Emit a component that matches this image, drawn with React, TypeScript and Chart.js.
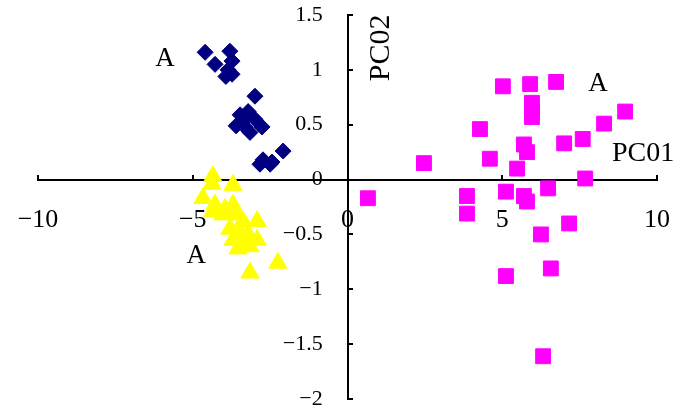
import { useEffect, useRef } from "react";
import { Chart, registerables } from "chart.js";

Chart.register(...registerables);

const navyX = [-4.6, -3.8, -3.73, -4.28, -3.86, -3.93, -3.73, -2.99, -3.47, -3.21, -2.99, -3.6, -3.31, -2.76, -3.15, -3.38, -2.08, -2.73, -2.44, -2.83, -2.5];
const navyY = [1.16, 1.17, 1.08, 1.05, 1.0, 0.94, 0.96, 0.76, 0.59, 0.62, 0.55, 0.49, 0.48, 0.48, 0.43, 0.53, 0.26, 0.18, 0.16, 0.14, 0.14];

const yellowX = [-4.35, -4.38, -3.7, -4.67, -4.28, -3.96, -3.7, -4.35, -4.02, -3.57, -3.38, -2.92, -3.8, -3.47, -3.21, -2.92, -3.7, -3.38, -3.54, -3.15, -2.25, -3.15];
const yellowY = [0.03, -0.04, -0.05, -0.17, -0.23, -0.27, -0.23, -0.29, -0.32, -0.32, -0.38, -0.38, -0.45, -0.48, -0.5, -0.55, -0.55, -0.57, -0.63, -0.61, -0.76, -0.85];

const magentaX = [0.66, 2.47, 4.28, 4.6, 5.02, 3.86, 3.86, 5.12, 5.12, 5.7, 5.8, 6.48, 6.25, 6.57, 6.32, 7.16, 7.68, 5.9, 6.74, 5.96, 5.96, 5.96, 5.7, 5.8, 5.48, 7.0, 7.6, 8.29, 8.97];
const magentaY = [-0.17, 0.15, 0.46, 0.19, 0.85, -0.15, -0.31, -0.11, -0.88, -0.15, -0.2, -0.08, -0.5, -0.81, -1.61, -0.4, 0.01, 0.87, 0.89, 0.7, 0.64, 0.57, 0.32, 0.25, 0.1, 0.33, 0.37, 0.51, 0.62];

const xMin = -10;
const xMax = 10;
const xStep = 5;
const yMin = -2;
const yMax = 1.5;
const yStep = 0.5;

const xTitle = "PC01";
const yTitle = "PC02";
const groupLabel = "A";
const groupLabelX = [-5.9, 8.09, -4.89];
const groupLabelY = [1.1, 0.875, -0.7];
const xTitlePos = [9.55, 0.24];
const yTitlePos = [1.08, 1.2];

const FONT = "'Liberation Serif', 'DejaVu Serif', serif";

const fmt = (v: number) => {
  const s = String(Math.round(v * 100) / 100);
  return s.replace("-", "\u2212");
};

const toPoints = (xs: number[], ys: number[]) => xs.map((x, i) => ({ x, y: ys[i] }));

const noLayoutSpace = (scale: any) => {
  if (scale.isHorizontal()) scale.height = 0;
  else scale.width = 0;
  scale.paddingLeft = 0;
  scale.paddingRight = 0;
  scale.paddingTop = 0;
  scale.paddingBottom = 0;
};

const textPlugin = {
  id: "annotText",
  afterDatasetsDraw(chart: any) {
    const { ctx, scales } = chart;
    const sx = scales.x;
    const sy = scales.y;
    ctx.save();
    ctx.fillStyle = "#000";
    ctx.textAlign = "center";
    ctx.textBaseline = "middle";
    ctx.font = `27px ${FONT}`;
    groupLabelX.forEach((gx, i) => {
      ctx.fillText(groupLabel, sx.getPixelForValue(gx), sy.getPixelForValue(groupLabelY[i]));
    });
    ctx.font = `28px ${FONT}`;
    ctx.fillText(xTitle, sx.getPixelForValue(xTitlePos[0]), sy.getPixelForValue(xTitlePos[1]));
    ctx.translate(sx.getPixelForValue(yTitlePos[0]), sy.getPixelForValue(yTitlePos[1]));
    ctx.rotate(-Math.PI / 2);
    ctx.font = `30px ${FONT}`;
    ctx.fillText(yTitle, 0, 0);
    ctx.restore();
  },
};

export default function App() {
  const ref = useRef<HTMLCanvasElement>(null);
  useEffect(() => {
    if (!ref.current) return;
    const chart = new Chart(ref.current, {
      type: "scatter",
      data: {
        datasets: [
          {
            label: "navy",
            data: toPoints(navyX, navyY),
            pointStyle: "rectRot",
            pointRadius: 8,
            backgroundColor: "#000080",
            borderColor: "#000080",
            borderWidth: 1,
            xAxisID: "x",
            yAxisID: "y",
          },
          {
            label: "yellow",
            data: toPoints(yellowX, yellowY),
            pointStyle: "triangle",
            pointRadius: 10.5,
            backgroundColor: "#FFFF00",
            borderColor: "#FFFF00",
            borderWidth: 1,
            xAxisID: "x",
            yAxisID: "y",
          },
          {
            label: "magenta",
            data: toPoints(magentaX, magentaY),
            pointStyle: "rect",
            pointRadius: 10.5,
            backgroundColor: "#FF00FF",
            borderColor: "#FF00FF",
            borderWidth: 1,
            xAxisID: "x",
            yAxisID: "y",
          },
        ],
      },
      options: {
        animation: false,
        responsive: true,
        maintainAspectRatio: false,
        layout: { padding: { left: 38, right: 18, top: 15, bottom: 13 } },
        plugins: { legend: { display: false }, tooltip: { enabled: false } },
        scales: {
          x: {
            type: "linear",
            axis: "x",
            min: xMin,
            max: xMax,
            position: { y: 0 } as any,
            afterFit: noLayoutSpace,
            ticks: {
              stepSize: xStep,
              autoSkip: false,
              maxRotation: 0,
              minRotation: 0,
              padding: 31,
              color: "#000",
              font: { family: FONT, size: 26 },
              callback: (v: any) => fmt(Number(v)),
            },
            grid: {
              display: true,
              drawOnChartArea: false,
              drawTicks: true,
              tickLength: -6,
              color: "#000",
              lineWidth: 2,
            },
            border: { display: true, color: "#000", width: 2 },
          },
          y: {
            type: "linear",
            axis: "y",
            min: yMin,
            max: yMax,
            position: { x: 0 } as any,
            afterFit: noLayoutSpace,
            ticks: { stepSize: yStep, display: false },
            grid: {
              display: true,
              drawOnChartArea: false,
              drawTicks: true,
              tickLength: -6,
              color: "#000",
              lineWidth: 2,
            },
            border: { display: true, color: "#000", width: 2 },
          },
          y2: {
            type: "linear",
            axis: "y",
            min: yMin,
            max: yMax,
            position: { x: -0.8 } as any,
            afterFit: noLayoutSpace,
            ticks: {
              stepSize: yStep,
              padding: 0,
              color: "#000",
              font: { family: FONT, size: 22 },
              callback: (v: any) => fmt(Number(v)),
            },
            grid: { display: false, drawTicks: false },
            border: { display: false },
          },
        },
      },
      plugins: [textPlugin],
    });
    return () => chart.destroy();
  }, []);
  return (
    <div style={{ position: "absolute", left: 0, top: 0, width: 675, height: 412 }}>
      <canvas ref={ref} />
    </div>
  );
}
